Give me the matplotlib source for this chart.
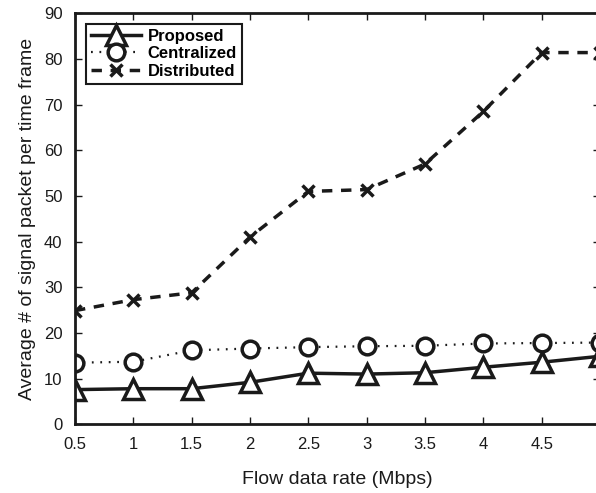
import matplotlib
matplotlib.use("Agg")
import matplotlib.pyplot as plt

rates = [0.5, 1, 1.5, 2, 2.5, 3, 3.5, 4, 4.5, 5]
proposed = [7.6, 7.8, 7.8, 9.2, 11.2, 11.0, 11.3, 12.5, 13.6, 14.9]
centralized = [13.5, 13.7, 16.2, 16.6, 16.9, 17.1, 17.2, 17.7, 17.8, 17.9]
distributed = [24.9, 27.3, 28.8, 41.0, 51.0, 51.4, 57.0, 68.5, 81.4, 81.4]
x_ticks = [0.5, 1, 1.5, 2, 2.5, 3, 3.5, 4, 4.5, 5]
y_ticks = [0, 10, 20, 30, 40, 50, 60, 70, 80, 90]

plt.rcParams['font.family'] = ['Liberation Sans', 'DejaVu Sans']

fig = plt.figure(figsize=(5.96, 4.93), dpi=100)
ax = fig.add_axes([0.1258, 0.1393, 0.8809, 0.8337])

ax.plot(rates, proposed, color='#1a1a1a', linestyle='-', linewidth=2.5,
        marker='^', markersize=14, markerfacecolor='white', markeredgewidth=2.5,
        label='Proposed')
ax.plot(rates, centralized, color='#1a1a1a', linestyle=(0, (0.8, 3)), linewidth=1.6,
        marker='o', markersize=12, markerfacecolor='white', markeredgewidth=2.5,
        label='Centralized')
ax.plot(rates, distributed, color='#1a1a1a', linestyle=(0, (3, 2.5)), linewidth=2.5,
        marker='x', markersize=9, markeredgewidth=2.5,
        label='Distributed')

ax.set_xlim(0.5, 5)
ax.set_ylim(0, 90)
ax.set_xticks(x_ticks)
ax.set_xticklabels(['0.5', '1', '1.5', '2', '2.5', '3', '3.5', '4', '4.5', '5'])
ax.set_yticks(y_ticks)
ax.tick_params(direction='in', top=True, right=True, length=5, width=1,
               labelsize=12, colors='#1a1a1a', pad=9)
for s in ax.spines.values():
    s.set_linewidth(2)
    s.set_color('#1a1a1a')

ax.set_xlabel('Flow data rate (Mbps)', fontsize=14, color='#1a1a1a', labelpad=14)
ax.set_ylabel('Average # of signal packet per time frame', fontsize=14,
              color='#1a1a1a', labelpad=6)

leg = ax.legend(loc='upper left', bbox_to_anchor=(0.005, 0.995), fancybox=False,
                edgecolor='#1a1a1a', framealpha=1, handlelength=3,
                borderpad=0.3, labelspacing=0.15, handletextpad=0.4,
                prop={'weight': 'bold', 'size': 12})
leg.get_frame().set_linewidth(1.5)

fig.savefig('out.png', dpi=100)
